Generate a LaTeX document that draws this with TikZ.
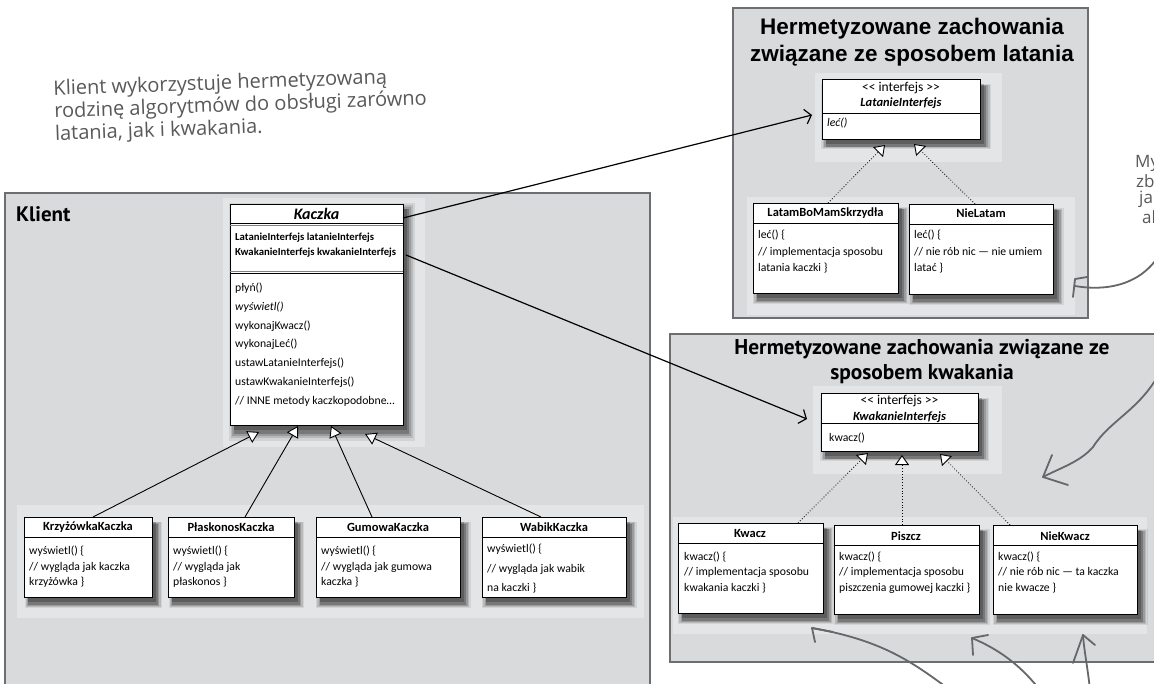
\documentclass[tikz,border=0pt]{standalone}
\usepackage{fontspec}
\setmainfont{Carlito}
\newfontfamily\hwfont{Open Sans}
\newfontfamily\arialfont{Liberation Sans}
\newfontfamily\ptfont{PT Sans}
\usetikzlibrary{arrows.meta,shadows}

\definecolor{grpfill}{HTML}{D9DADC}
\definecolor{halocol}{HTML}{E4E5E7}
\definecolor{grpline}{HTML}{6D6E71}
\definecolor{pencil}{HTML}{66676A}
\definecolor{hwcol}{HTML}{58595B}

\tikzset{
  grp/.style={draw=grpline, fill=grpfill, line width=2.2pt, anchor=north west, inner sep=0pt, outer sep=0pt},
  softshadow/.style={
    general shadow={shadow xshift=5pt, shadow yshift=-7pt, shadow scale=1.075, fill=black, opacity=0.08},
    general shadow={shadow xshift=5pt, shadow yshift=-7pt, shadow scale=1.055, fill=black, opacity=0.12},
    general shadow={shadow xshift=5pt, shadow yshift=-7pt, shadow scale=1.035, fill=black, opacity=0.16},
    general shadow={shadow xshift=5pt, shadow yshift=-7pt, shadow scale=1.015, fill=black, opacity=0.22},
    general shadow={shadow xshift=4pt, shadow yshift=-5pt, shadow scale=1.0, fill=black, opacity=0.22}},
  umlbox/.style={draw=black, line width=0.8pt, fill=white, anchor=north west, inner sep=0pt, outer sep=0pt, softshadow},
  sepline/.style={draw=black, line width=0.8pt},
  ttl/.style={inner sep=0pt, font=\bfseries\fontsize{12.5}{14}\selectfont},
  body/.style={anchor=west, inner sep=0pt, font=\fontsize{11.7}{13}\selectfont},
  fld/.style={anchor=west, inner sep=0pt, font=\bfseries\fontsize{10.7}{12}\selectfont},
  stereo/.style={inner sep=0pt, font=\fontsize{13.5}{15}\selectfont},
  assoc/.style={line width=1.2pt, -{Straight Barb[length=6pt, width=15pt, line width=1.2pt]}},
  inh/.style={line width=0.9pt, -{Triangle[open, length=11pt, width=13pt, fill=white, line width=0.9pt]}},
  realiz/.style={dotted, line width=0.8pt, -{Triangle[open, length=10pt, width=14pt, fill=white, line width=0.9pt]}},
  pencilline/.style={draw=pencil, line width=1.8pt, line cap=round, line join=round},
  hw/.style={text=hwcol, inner sep=0pt, font=\hwfont\fontsize{20}{22.5}\selectfont},
  hwedge/.style={text=hwcol, inner sep=0pt, anchor=west, font=\hwfont\fontsize{17}{17}\selectfont}
}

\begin{document}
\begin{tikzpicture}[x=1pt,y=-1pt]
\path[use as bounding box] (0,0) rectangle (1154,683);
\clip (0,0) rectangle (1154,683);
\fill[white] (0,0) rectangle (1154,683);

% ---------- group boxes ----------
\node[grp, minimum width=645pt, minimum height=497pt] (klient) at (5,193) {};
\node[grp, minimum width=355pt, minimum height=310pt] (latgrp) at (733,8) {};
\node[grp, minimum width=495pt, minimum height=328pt] (kwagrp) at (670,334) {};

% ---------- lighter halos ----------
\fill[halocol] (223,198) rectangle (425,447);
\fill[halocol] (17,505) rectangle (644,618);
\fill[halocol] (815,73) rectangle (1002,162);
\fill[halocol] (747,197) rectangle (1075,315);
\fill[halocol] (813,386) rectangle (1002,474);
\fill[halocol] (673,517) rectangle (1147,634);

% ---------- titles ----------
\node[anchor=west, inner sep=0pt, font=\ptfont\bfseries\fontsize{21}{24}\selectfont] (kltitle) at (16,214) {Klient};
\node[align=center, inner sep=0pt, font=\arialfont\bfseries\fontsize{22.5}{27}\selectfont] (lattitle) at (912,42) {Hermetyzowane zachowania\\związane ze sposobem latania};
\node[align=center, inner sep=0pt, font=\ptfont\bfseries\fontsize{21.4}{25}\selectfont] (kwatitle) at (922,362) {Hermetyzowane zachowania związane ze\\sposobem kwakania};

% ---------- handwritten notes ----------
\node[hw, anchor=north west, align=left, rotate=2] (note) at (53,80) {Klient wykorzystuje hermetyzowaną\\rodzinę algorytmów do obsługi zarówno\\latania, jak i kwakania.};
\node[hwedge] (n1) at (1135,163) {My};
\node[hwedge] (n2) at (1136,181) {zb};
\node[hwedge] (n3) at (1139,199) {ja};
\node[hwedge] (n4) at (1142,217) {al};

% ---------- Kaczka ----------
\node[umlbox, minimum width=173pt, minimum height=221pt] (kaczka) at (230,204) {};
\node[inner sep=0pt, font=\bfseries\itshape\fontsize{16}{18}\selectfont] (kaczkat) at (316.5,214) {Kaczka};
\draw[sepline] ([yshift=-19pt]kaczka.north west) -- ([yshift=-19pt]kaczka.north east);
\draw[draw=gray, line width=1pt] ([yshift=-21pt]kaczka.north west) -- ([yshift=-21pt]kaczka.north east);
\node[fld] (f1) at (235,238) {LatanieInterfejs latanieInterfejs};
\node[fld] (f2) at (235,253) {KwakanieInterfejs kwakanieInterfejs};
\draw[draw=gray, line width=1pt] ([yshift=-67pt]kaczka.north west) -- ([yshift=-67pt]kaczka.north east);
\draw[sepline] ([yshift=-69pt]kaczka.north west) -- ([yshift=-69pt]kaczka.north east);
\node[body] (m1) at (235,288) {płyń()};
\node[body, font=\itshape\fontsize{11.7}{13}\selectfont] (m2) at (235,307) {wyświetl()};
\node[body] (m3) at (235,326) {wykonajKwacz()};
\node[body] (m4) at (235,344) {wykonajLeć()};
\node[body] (m5) at (235,363) {ustawLatanieInterfejs()};
\node[body] (m6) at (235,382) {ustawKwakanieInterfejs()};
\node[body] (m7) at (235,401) {// INNE metody kaczkopodobne…};

% ---------- Kaczka subclasses ----------
\node[umlbox, minimum width=128pt, minimum height=80pt] (krz) at (24,517) {};
\node[umlbox, minimum width=126pt, minimum height=80pt] (plask) at (168,517) {};
\node[umlbox, minimum width=144pt, minimum height=80pt] (gum) at (316,517) {};
\node[umlbox, minimum width=144pt, minimum height=80pt] (wab) at (482,517) {};
\foreach \b in {krz,plask,gum,wab}{
  \draw[sepline] ([yshift=-20pt]\b.north west) -- ([yshift=-20pt]\b.north east);
}
\node[ttl] (krzt) at (88,527) {KrzyżówkaKaczka};
\node[ttl] (plaskt) at (231,527) {PłaskonosKaczka};
\node[ttl] (gumt) at (388,527) {GumowaKaczka};
\node[ttl] (wabt) at (554,527) {WabikKaczka};
\node[body] at (29,551) {wyświetl() \{};
\node[body] at (29,567) {// wygląda jak kaczka};
\node[body] at (29,582) {krzyżówka \}};
\node[body] at (173,551) {wyświetl() \{};
\node[body] at (173,567) {// wygląda jak};
\node[body] at (173,582) {płaskonos \}};
\node[body] at (321,551) {wyświetl() \{};
\node[body] at (321,567) {// wygląda jak gumowa};
\node[body] at (321,582) {kaczka \}};
\node[body] at (487,549) {wyświetl() \{};
\node[body] at (487,569) {// wygląda jak wabik};
\node[body] at (487,588) {na kaczki \}};

% ---------- Latanie ----------
\node[umlbox, minimum width=158pt, minimum height=60pt] (latint) at (822,79) {};
\node[stereo] (latst) at (901,88) {<{}< interfejs >{}>};
\node[inner sep=0pt, font=\bfseries\itshape\fontsize{12.5}{14}\selectfont] (latname) at (901,103) {LatanieInterfejs};
\draw[sepline] ([yshift=-34pt]latint.north west) -- ([yshift=-34pt]latint.north east);
\node[body, font=\itshape\fontsize{11.7}{13}\selectfont] (latm) at (827,123) {leć()};

\node[umlbox, minimum width=145pt, minimum height=90pt] (latam) at (753,203) {};
\node[umlbox, minimum width=144pt, minimum height=90pt] (nielat) at (909,204) {};
\draw[sepline] ([yshift=-20pt]latam.north west) -- ([yshift=-20pt]latam.north east);
\draw[sepline] ([yshift=-20pt]nielat.north west) -- ([yshift=-20pt]nielat.north east);
\node[ttl] (latamt) at (825.5,213) {LatamBoMamSkrzydła};
\node[ttl] (nielatt) at (981,213) {NieLatam};
\node[body] at (758,235) {leć() \{};
\node[body] at (758,252) {// implementacja sposobu};
\node[body] at (758,268) {latania kaczki \}};
\node[body] at (914,235) {leć() \{};
\node[body] at (914,252) {// nie rób nic — nie umiem};
\node[body] at (914,268) {latać \}};

% ---------- Kwakanie ----------
\node[umlbox, minimum width=157pt, minimum height=58pt] (kwint) at (821,393) {};
\node[stereo] (kwst) at (899.5,401) {<{}< interfejs >{}>};
\node[inner sep=0pt, font=\bfseries\itshape\fontsize{12.5}{14}\selectfont] (kwname) at (899.5,417) {KwakanieInterfejs};
\draw[sepline] ([yshift=-30pt]kwint.north west) -- ([yshift=-30pt]kwint.north east);
\node[body] (kwm) at (829,438) {kwacz()};

\node[umlbox, minimum width=145pt, minimum height=90pt] (kwacz) at (678,523) {};
\node[umlbox, minimum width=145pt, minimum height=89pt] (piszcz) at (834,525) {};
\node[umlbox, minimum width=144pt, minimum height=89pt] (niekw) at (993,525) {};
\draw[sepline] ([yshift=-20pt]kwacz.north west) -- ([yshift=-20pt]kwacz.north east);
\draw[sepline] ([yshift=-20pt]piszcz.north west) -- ([yshift=-20pt]piszcz.north east);
\draw[sepline] ([yshift=-20pt]niekw.north west) -- ([yshift=-20pt]niekw.north east);
\node[ttl] (kwaczt) at (750,533) {Kwacz};
\node[ttl] (piszczt) at (906,536) {Piszcz};
\node[ttl] (niekwt) at (1065,536) {NieKwacz};
\node[body] at (684,557) {kwacz() \{};
\node[body] at (684,572) {// implementacja sposobu};
\node[body] at (684,588) {kwakania kaczki \}};
\node[body] at (839,557) {kwacz() \{};
\node[body] at (839,572) {// implementacja sposobu};
\node[body] at (839,588) {piszczenia gumowej kaczki \}};
\node[body] at (998,557) {kwacz() \{};
\node[body] at (998,572) {// nie rób nic — ta kaczka};
\node[body] at (998,588) {nie kwacze \}};

% ---------- connectors ----------
\draw[assoc] ([yshift=-14pt]kaczka.north east) -- ([xshift=-10pt,yshift=-6pt]latint.west);
\draw[assoc] ([xshift=3pt,yshift=-51pt]kaczka.north east) -- ([xshift=-14pt,yshift=3pt]kwint.west);

\draw[inh] ([xshift=69pt]krz.north west) -- ([xshift=29pt,yshift=-7pt]kaczka.south west);
\draw[inh] ([xshift=77pt]plask.north west) -- ([xshift=68pt,yshift=-1pt]kaczka.south west);
\draw[inh] ([xshift=56pt]gum.north west) -- ([xshift=101pt,yshift=-1pt]kaczka.south west);
\draw[inh] ([xshift=59pt]wab.north west) -- ([xshift=135pt,yshift=-9pt]kaczka.south west);

\draw[realiz] ([xshift=75pt]latam.north west) -- ([xshift=63pt,yshift=-6pt]latint.south west);
\draw[realiz] ([xshift=66pt]nielat.north west) -- ([xshift=92pt,yshift=-5pt]latint.south west);
\draw[realiz] ([xshift=120pt]kwacz.north west) -- ([xshift=47pt,yshift=-2pt]kwint.south west);
\draw[realiz] ([xshift=68pt]piszcz.north west) -- ([xshift=81pt,yshift=-4pt]kwint.south west);
\draw[realiz] ([xshift=17pt]niekw.north west) -- ([xshift=119pt,yshift=-3pt]kwint.south west);

% ---------- pencil arrows ----------
\draw[pencilline] (1162,250) .. controls (1145,283) and (1110,292) .. (1075,286);
\draw[pencilline] (1087,277) -- (1075,279) -- (1073,297);

\draw[pencilline] (1160,372) .. controls (1140,410) and (1110,420) .. (1093,447) .. controls (1080,462) and (1060,468) .. (1043,477);
\draw[pencilline] (1052,455) -- (1043,477) -- (1068,485);

\draw[pencilline] (950,690) .. controls (910,660) and (880,640) .. (812,628);
\draw[pencilline] (833,632) -- (812,628) -- (815,642);

\draw[pencilline] (1040,690) .. controls (1020,665) and (1000,650) .. (972,638);
\draw[pencilline] (988,635) -- (972,638) -- (973,655);

\draw[pencilline] (1090,690) .. controls (1088,670) and (1084,650) .. (1083,635);
\draw[pencilline] (1073,663) -- (1083,635) -- (1095,645);
\end{tikzpicture}
\end{document}
